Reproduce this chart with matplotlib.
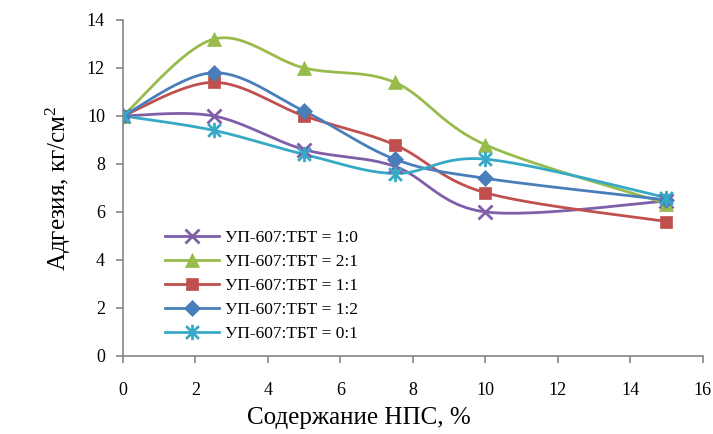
import matplotlib
matplotlib.use("Agg")
import matplotlib.pyplot as plt
from matplotlib.path import Path
import numpy as np

# данные
content = [0, 2.5, 5, 7.5, 10, 15]
series_names = ["УП-607:ТБТ = 1:0", "УП-607:ТБТ = 2:1", "УП-607:ТБТ = 1:1",
                "УП-607:ТБТ = 1:2", "УП-607:ТБТ = 0:1"]
adh_1_0 = [10.0, 10.0, 8.6, 7.9, 6.0, 6.45]
adh_2_1 = [10.0, 13.2, 12.0, 11.4, 8.8, 6.35]
adh_1_1 = [10.0, 11.4, 10.0, 8.8, 6.8, 5.6]
adh_1_2 = [10.0, 11.8, 10.2, 8.2, 7.4, 6.5]
adh_0_1 = [10.0, 9.4, 8.4, 7.6, 8.2, 6.6]

# звёздочка как в Excel: крест + вертикальная линия
star = Path([(-1, -1), (1, 1), (-1, 1), (1, -1), (0, -1.2), (0, 1.2)],
            [Path.MOVETO, Path.LINETO, Path.MOVETO, Path.LINETO, Path.MOVETO, Path.LINETO])

colors = ["#7f5fa8", "#98bb4c", "#c0504d", "#4a7ebb", "#36a9c6"]
markers = ["x", "^", "s", "D", star]
msizes = [10, 10, 9, 8, 11]

plt.rcParams['font.family'] = ['Liberation Serif', 'DejaVu Serif']
plt.rcParams['mathtext.fontset'] = 'custom'
plt.rcParams['mathtext.rm'] = 'Liberation Serif'
plt.rcParams['mathtext.it'] = 'Liberation Serif:italic'


def smooth(x, y, n=30):
    """Сглаживание как в Excel (кривые Безье по Катмулл-Рому)."""
    x = np.asarray(x, float)
    y = np.asarray(y, float)
    px, py = [], []
    for i in range(len(x) - 1):
        x0, y0 = (x[i - 1], y[i - 1]) if i > 0 else (x[i], y[i])
        x3, y3 = (x[i + 2], y[i + 2]) if i + 2 < len(x) else (x[i + 1], y[i + 1])
        x1, y1, x2, y2 = x[i], y[i], x[i + 1], y[i + 1]
        c1x, c1y = x1 + (x2 - x0) / 6, y1 + (y2 - y0) / 6
        c2x, c2y = x2 - (x3 - x1) / 6, y2 - (y3 - y1) / 6
        t = np.linspace(0, 1, n)
        px.extend((1 - t) ** 3 * x1 + 3 * (1 - t) ** 2 * t * c1x + 3 * (1 - t) * t ** 2 * c2x + t ** 3 * x2)
        py.extend((1 - t) ** 3 * y1 + 3 * (1 - t) ** 2 * t * c1y + 3 * (1 - t) * t ** 2 * c2y + t ** 3 * y2)
    return np.array(px), np.array(py)


fig = plt.figure(figsize=(7.13, 4.34), dpi=100)
ax = fig.add_axes([0.1725, 0.18, 0.813, 0.774])

all_series = [adh_1_0, adh_2_1, adh_1_1, adh_1_2, adh_0_1]
for name, vals, c, m, ms in zip(series_names, all_series, colors, markers, msizes):
    sx, sy = smooth(content, vals)
    ax.plot(sx, sy, color=c, lw=2.0, zorder=2)
    mew = 0.5 if isinstance(m, str) and m != "x" else 2.0
    ax.plot(content, vals, linestyle="none", marker=m, color=c, ms=ms,
            mew=mew, mec=c, zorder=3)
    # элемент легенды
    ax.plot([], [], color=c, lw=2.0, marker=m, ms=ms, mew=mew, mec=c, label=name)

ax.set_xlim(0, 16)
ax.set_ylim(0, 14)
ax.set_xticks(np.arange(0, 17, 2))
ax.set_yticks(np.arange(0, 15, 2))

for s in ["top", "right"]:
    ax.spines[s].set_visible(False)
for s in ["left", "bottom"]:
    ax.spines[s].set_color("#868686")
    ax.spines[s].set_linewidth(1.2)
ax.tick_params(colors="#868686", direction="out", length=5, width=1.2,
               labelsize=13, labelcolor="black")
ax.tick_params(axis="x", pad=14)
ax.tick_params(axis="y", pad=8)

ax.set_xlabel("Содержание НПС, %", fontsize=18, va="center")
ax.xaxis.set_label_coords(0.407, -0.185)
ax.set_ylabel("Адгезия, кг/см$^{\\mathrm{2}}$", fontsize=18, labelpad=10)

leg = ax.legend(loc="lower left", bbox_to_anchor=(0.045, -0.005), frameon=False,
                fontsize=12.5, handlelength=3.1, handletextpad=0.4,
                labelspacing=0.45)

fig.savefig("out.png", dpi=100)
